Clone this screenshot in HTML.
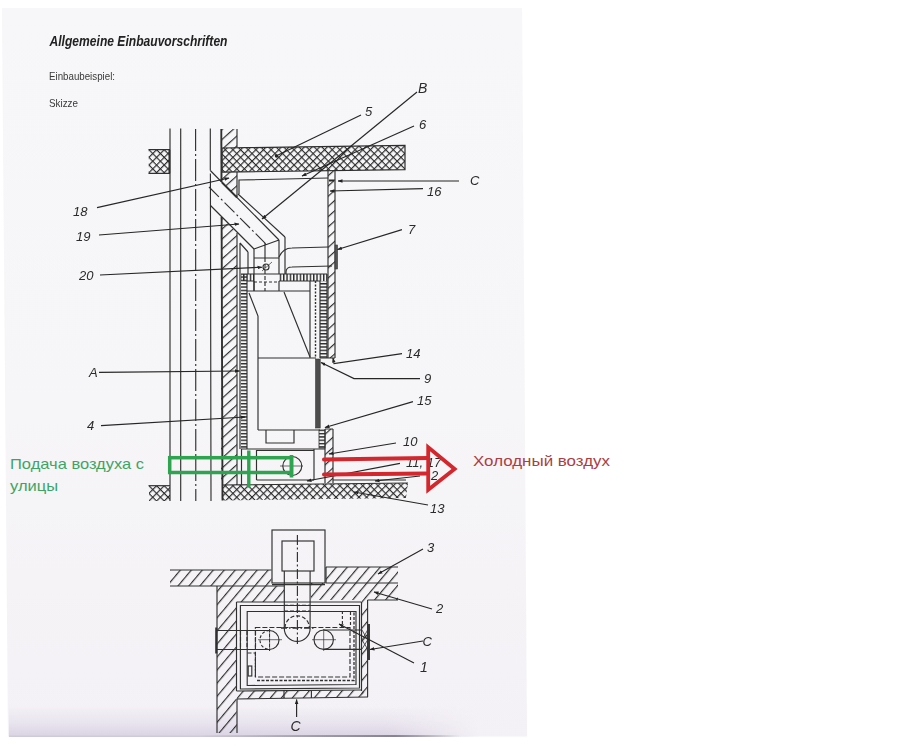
<!DOCTYPE html>
<html lang="de">
<head>
<meta charset="utf-8">
<title>Allgemeine Einbauvorschriften</title>
<style>
  html, body { margin: 0; padding: 0; background: #ffffff; }
  body { width: 905px; height: 750px; position: relative; overflow: hidden;
         font-family: "Liberation Sans", sans-serif; }
  #paper { position: absolute; left: 0; top: 0; width: 540px; height: 750px;
           background: linear-gradient(to bottom, #f7f6f8 0%, #f6f5f7 55%, #f4f1f6 100%); clip-path: polygon(2px 8px, 522px 8px, 527px 736.5px, 8px 736.5px); filter: blur(0.6px); }
  #shadow { position: absolute; left: 9px; top: 706px; width: 470px; height: 30.5px;
            background: linear-gradient(to bottom, rgba(205,195,218,0) 0%, rgba(205,195,218,0.28) 55%, rgba(200,190,214,0.55) 92%, rgba(185,176,198,0.7) 100%);
            -webkit-mask-image: linear-gradient(to right, #000 0%, #000 80%, transparent 100%);
            mask-image: linear-gradient(to right, #000 0%, #000 80%, transparent 100%); }
  #shadow2 { position: absolute; left: 200px; top: 734.5px; width: 260px; height: 2px;
            background: linear-gradient(to right, rgba(120,115,128,0) 0%, rgba(120,115,128,0.55) 45%, rgba(110,105,118,0.75) 75%, rgba(120,115,128,0) 100%); }
  svg { position: absolute; left: 0; top: 0; }
  #upper, #lower, #leaders, #labels, #hdr { filter: blur(0.35px); }
  .hw { font-family: "Liberation Sans", sans-serif; font-style: italic; font-size: 13px; fill: #2b2b2b; }
</style>
</head>
<body>
<div id="paper"></div>
<div id="shadow"></div>
<div id="shadow2"></div>
<svg width="905" height="750" viewBox="0 0 905 750">
  <defs>
    <!-- wall hatch "/" -->
    <pattern id="hatch" width="7.4" height="7.4" patternUnits="userSpaceOnUse" patternTransform="rotate(-42)">
      <line x1="0" y1="0.6" x2="7.4" y2="0.6" stroke="#2e2e2e" stroke-width="1.15"/>
    </pattern>
    <pattern id="hatchThin" width="7.6" height="7.6" patternUnits="userSpaceOnUse" patternTransform="rotate(-42)">
      <line x1="0" y1="0.6" x2="7.6" y2="0.6" stroke="#2e2e2e" stroke-width="1.15"/>
    </pattern>
    <pattern id="hatchBig" width="8.4" height="8.4" patternUnits="userSpaceOnUse" patternTransform="rotate(-50)">
      <line x1="0" y1="0.6" x2="8.4" y2="0.6" stroke="#2e2e2e" stroke-width="1.15"/>
    </pattern>
    <!-- crosshatch slab -->
    <pattern id="cross" width="5.4" height="5.4" patternUnits="userSpaceOnUse" patternTransform="rotate(45)">
      <path d="M0,0.6H5.4M0.6,0V5.4" stroke="#2a2a2a" stroke-width="1.15" fill="none"/>
    </pattern>
    <!-- brick bands -->
    <pattern id="brickV" width="6" height="3.33" patternUnits="userSpaceOnUse">
      <line x1="0" y1="0.7" x2="6" y2="0.7" stroke="#2a2a2a" stroke-width="1.4"/>
    </pattern>
    <pattern id="brickH" width="3.33" height="6" patternUnits="userSpaceOnUse">
      <line x1="0.7" y1="0" x2="0.7" y2="6" stroke="#2a2a2a" stroke-width="1.4"/>
    </pattern>
    <marker id="ah" viewBox="0 0 10 10" refX="9" refY="5" markerWidth="5" markerHeight="5" markerUnits="userSpaceOnUse" orient="auto">
      <path d="M0,1.5 L10,5 L0,8.5 z" fill="#222"/>
    </marker>
  </defs>

  <!-- header text -->
  <g id="hdr">
  <text x="49.5" y="46.2" font-family="Liberation Sans, sans-serif" font-weight="bold" font-style="italic" font-size="14px" fill="#222" textLength="178" lengthAdjust="spacingAndGlyphs">Allgemeine Einbauvorschriften</text>
  <text x="49" y="80" font-family="Liberation Sans, sans-serif" font-size="10.5px" fill="#3a3a3a" textLength="66" lengthAdjust="spacingAndGlyphs">Einbaubeispiel:</text>
  <text x="49" y="106.5" font-family="Liberation Sans, sans-serif" font-size="10.5px" fill="#3a3a3a" textLength="29" lengthAdjust="spacingAndGlyphs">Skizze</text>
  </g>

  <g id="upper" fill="none" stroke="#303030" stroke-width="1.15" stroke-linecap="butt">
    <!-- slabs (crosshatched) -->
    <polygon points="222,148 405,145.3 405,169.6 222,172.2" fill="url(#cross)" stroke="#2e2e2e" stroke-width="1.2"/>
    <rect x="148.7" y="149.7" width="21.3" height="23.7" fill="url(#cross)" stroke="none"/>
    <path d="M148.5,149.7H170 M148.5,173.4H170" stroke-width="1.2"/>
    <path d="M169.4,149.7V173.4" stroke-width="1.8"/>
    <!-- chimney verticals -->
    <path d="M170,128.5V501 M180.7,128.5V501 M210.3,128.5V170.5 M210.4,173.5L211,501"/>
    <line x1="195.6" y1="129" x2="195.8" y2="501" stroke-dasharray="22 3 2 3"/>
    <!-- wall above pipe -->
    <polygon points="221,129 237,129 237,148 221,148" fill="url(#hatch)" stroke="none"/>
    <polygon points="221,172 237,172 237,197 221.5,182" fill="url(#hatch)" stroke="none"/>
    <path d="M221.3,129L221.5,182" stroke-width="1.9"/>
    <path d="M237,129V147 M237,172V197"/>
    <path d="M222,182.5L237,197.5" stroke-width="1.8"/>
    <!-- wall below pipe -->
    <polygon points="221,217 237,233 237,485 221,485" fill="url(#hatch)" stroke="none"/>
    <path d="M221.6,217L222.5,500.5" stroke-width="1.9"/>
    <path d="M237,233V485"/>
    <!-- flue pipe diagonal -->
    <path d="M210.3,170.5L279,240 M210.5,205.5L254,249 M238,194L285,237"/>
    <path d="M209,187L266,244" stroke-dasharray="14 3 2 3"/>
    <path d="M254,249L279,240 M254,249V291 M279,240V274 M285,237V274 M265,243V258" />
    <path d="M265,258V291" stroke-dasharray="4 2"/>
    <path d="M254,258H279 M254,274H279"/>
    <circle cx="266" cy="267" r="3"/>
    <path d="M262,271L272,262" stroke-width="0.7"/>
    <!-- inner strip -->
    <path d="M240,243V449 M240,243L248,252 M248,252V274" />
    <!-- top enclosure -->
    <path d="M239,194V180L328,178"/>
    <!-- right thin wall -->
    <rect x="328" y="170" width="7" height="188" fill="url(#hatchThin)" stroke="none"/>
    <path d="M328,170V358 M335,170V358 M328,358H335"/>
    <rect x="335" y="245" width="2.5" height="24" fill="#555" stroke="#333" stroke-width="0.6"/>
    <!-- ducts -->
    <path d="M279,257 Q283,248 292,248 L328,247"/>
    <path d="M286,274V272 Q286,267 292,267 L332,266"/>
    <!-- brick lining -->
    <rect x="241" y="274" width="6" height="175" fill="url(#brickV)" stroke="none"/>
    <rect x="241" y="274" width="13" height="7" fill="url(#brickH)" stroke="none"/>
    <rect x="279" y="274" width="48" height="7" fill="url(#brickH)" stroke="none"/>
    <rect x="320" y="281" width="7" height="77" fill="url(#brickV)" stroke="none"/>
    <path d="M241,274H254 M279,274H327 M247,281H254 M279,281H320 M247,281V449 M320,281V358 M327,274V358 M320,358H328"/>
    <path d="M254,282H279" stroke-dasharray="3 2"/>
    <!-- stove interior -->
    <path d="M247,291H310 M310,281V358 M279,281V291 M254,281V291"/>
    <path d="M315.5,281V358" stroke-dasharray="2 1.5" stroke-width="1.4"/>
    <path d="M249,293L258,316V430 M284,292L310,357"/>
    <path d="M258,358H316 M258,430H320"/>
    <rect x="315.6" y="359" width="4.6" height="69" fill="#4d4d4d" stroke="#333" stroke-width="0.6"/>
    <path d="M266,430V443H294V430"/>
    <!-- lower right of stove -->
    <rect x="319" y="430" width="6" height="18" fill="url(#brickV)" stroke="#333" stroke-width="0.8"/>
    <rect x="325" y="429" width="8" height="54" fill="url(#hatchThin)" stroke="none"/>
    <path d="M325,429V483 M333,429V483 M325,429H333"/>
    <path d="M241,449H325"/>
    <!-- air box -->
    <path d="M241.5,449V485 M256.5,450V480 M256.5,450.5H314 M314,449V480 M256.5,480H314"/>
    <circle cx="292.3" cy="466" r="9.5"/>
    <path d="M280,466H303 M292.3,455V477" stroke-width="0.7"/>
    <!-- floor slab -->
    <polygon points="222,485 408,483 406,498 222,500.5" fill="url(#cross)" stroke="none"/>
    <path d="M222,485L408,483 M333,480H406" stroke-width="1.1"/>
    <rect x="149" y="486" width="21" height="15" fill="url(#cross)" stroke="none"/>
    <path d="M148.5,485.7H170" stroke-width="1.2"/>
    
  <!--UPPER-->
  </g>

  <g id="lower" fill="none" stroke="#303030" stroke-width="1.15">
    <!-- walls hatched -->
    <polygon points="170,570 271.5,570 271.5,586 170,586" fill="url(#hatchBig)" stroke="none"/>
    <path d="M170,570H271.5 M170,586H217"/>
    <polygon points="217,586 284,586 284,602 236.5,602 236.5,699 237,733 217,733" fill="url(#hatchBig)" stroke="none"/>
    <path d="M217,586V733 M237,699V733 M217,586H284"/>
    <polygon points="326,567 398,567 398,600 367.6,600 367.6,697 361.5,697 361.5,600 311,600 311,583 326,583" fill="url(#hatchBig)" stroke="none"/>
    <path d="M326,567H398 M326,583H398 M367.6,600H398 M326,567V583 M367.6,600V697 M361.5,602V691"/>
    <polygon points="237,691 362,690 368,697 237,699" fill="url(#hatchBig)" stroke="none"/>
    <path d="M237,699L368,697 M284,691V699 M311.4,690.5V698"/>
    <!-- chimney block -->
    <rect x="272" y="530" width="53" height="53"/>
    <path d="M272,584.6H325"/>
    <rect x="282" y="541" width="32" height="30"/>
    <path d="M297.4,535V644" stroke-dasharray="10 2.5 2 2.5"/>
    <!-- flue pipe plan -->
    <path d="M284.3,571V628.5 A12.9,12.9 0 0 0 310.1,628.5 V571"/>
    <path d="M285,628 A12.2,12.2 0 0 1 309.4,628" stroke-dasharray="4 2"/>
    <path d="M284,605.3H310 M284,611H310" stroke-dasharray="4 2"/>
    <path d="M281,628H314" stroke-dasharray="6 2 1.5 2" stroke-width="1.3"/>
    <!-- linings -->
    <path d="M236.5,602H361.5 M236.5,602V691 M236.5,691L361.5,690"/>
    <path d="M240.4,605.5H359.5V688L240.4,689Z"/>
    <path d="M247.2,611.5H356V684.5L247.2,685.5Z"/>
    <!-- dashed inner -->
    <path d="M255.4,627.5H350V677H255.4Z" stroke-dasharray="5 2"/>
    <path d="M257,680.5H354V612" stroke-dasharray="3 1.5" stroke-width="1.3"/>
    <path d="M350.5,612V627 M342.4,611V626" stroke-dasharray="3 2"/>
    <path d="M247.5,653H255.4V677" stroke-dasharray="4 2"/>
    <rect x="248.2" y="666" width="3.6" height="10"/>
    <!-- air pipes -->
    <path d="M216,630.5H269.5 M216,649.5H269.5"/>
    <path d="M216.3,627.5V653.5" stroke-width="2.2"/>
    <path d="M240.5,631V649 M247,631V649 M255.5,631V649" stroke-dasharray="4 2"/>
    <path d="M269.5,630.5 A9.5,9.5 0 0 1 269.5,649.5"/>
    <path d="M269.5,630.5 A9.5,9.5 0 0 0 269.5,649.5" stroke-dasharray="3 2"/>
    <path d="M269.5,629V651" stroke-dasharray="3 2" stroke-width="0.9"/>
    <path d="M258,639.7H282 M269.6,629V651" stroke-width="0.7"/>
    <path d="M323.7,630 A9.7,9.7 0 0 0 323.7,649.4 H362 M323.7,630H362"/>
    <path d="M333.4,639.7 A9.7,9.7 0 0 0 323.7,630 M333.4,639.7 A9.7,9.7 0 0 1 323.7,649.4"/>
    <path d="M312,639.7H336 M323.7,629V651" stroke-width="0.7"/>
    <path d="M369,624V660" stroke-width="1.9"/>
    <path d="M362,630L367.6,640L362,649 M367.6,630L362,640L367.6,649" stroke-width="0.8"/>
  <!--LOWER-->
  </g>

  <g id="leaders" fill="none" stroke="#262626" stroke-width="1.15">
    <!-- upper leaders -->
    <path d="M361,115L276,156"/><circle cx="276.5" cy="156" r="1.7" fill="#222" stroke="none"/>
    <path d="M417,92L262,219" marker-end="url(#ah)"/>
    <path d="M414,126L302,176" marker-end="url(#ah)"/>
    <path d="M459,181H338" marker-end="url(#ah)"/>
    <path d="M423,188.6L330,191" marker-end="url(#ah)"/>
    <path d="M329,180.5H334" stroke-width="2"/>
    <path d="M402,229.6L337.5,249.5" marker-end="url(#ah)"/>
    <path d="M97,207.6L229,178" marker-end="url(#ah)"/>
    <path d="M99,235L239,224" marker-end="url(#ah)"/>
    <path d="M100,275L262,267.2" marker-end="url(#ah)"/>
    <path d="M99,372.4L239.5,371" marker-end="url(#ah)"/>
    <path d="M101,425.6L245,417" marker-end="url(#ah)"/>
    <path d="M402,353.6L334,363.6L333,358" marker-end="url(#ah)"/>
    <path d="M420,378.6H354L321,362.5" marker-end="url(#ah)"/>
    <path d="M413,401.6L325,427.5" marker-end="url(#ah)"/>
    <path d="M396,443L329,454" marker-end="url(#ah)"/>
    <path d="M400,463.4L307,481" marker-end="url(#ah)"/>
    <path d="M420,476L375,481" marker-end="url(#ah)"/>
    <path d="M428,505L354,492" marker-end="url(#ah)"/>
    <!-- lower leaders -->
    <path d="M423,549L378,574" marker-end="url(#ah)"/>
    <path d="M432,609L374,592" marker-end="url(#ah)"/>
    <path d="M423,641L370,649.5" marker-end="url(#ah)"/>
    <path d="M414,663L339,624" marker-end="url(#ah)"/>
    <path d="M296.6,717V699.5" marker-end="url(#ah)"/>
  <!--LEADERS-->
  </g>

  <g id="labels" class="hw" stroke="none">
    <text x="365" y="116">5</text>
    <text x="418" y="93" font-size="14px">B</text>
    <text x="419" y="129">6</text>
    <text x="470" y="185" font-size="13px">C</text>
    <text x="427" y="196">16</text>
    <text x="408" y="234">7</text>
    <text x="73" y="215.5">18</text>
    <text x="76" y="241">19</text>
    <text x="79" y="279.5">20</text>
    <text x="89" y="377">A</text>
    <text x="87" y="430">4</text>
    <text x="406" y="357.5">14</text>
    <text x="424" y="383">9</text>
    <text x="417" y="404.5">15</text>
    <text x="403" y="446">10</text>
    <text x="406" y="467">11, 17</text>
    <text x="431" y="479.5">2</text>
    <text x="430" y="512.5">13</text>
    <text x="427" y="551.5">3</text>
    <text x="436" y="612.5">2</text>
    <text x="422.5" y="646" font-size="13px">C</text>
    <text x="420" y="671.5" font-size="14px">1</text>
    <text x="290.5" y="731" font-size="14px">C</text>
  <!--LABELS-->
  </g>

  <g id="annot">
    <!-- green supply air -->
    <rect x="169.7" y="457.7" width="121.8" height="14.8" fill="none" stroke="#2ea350" stroke-width="3.5"/>
    <path d="M248.8,450.5V487.5" stroke="#2ea350" stroke-width="3.4" fill="none"/>
    <path d="M291.5,455V477.5" stroke="#2ea350" stroke-width="3.6" fill="none"/>
    <text x="10" y="468.6" font-family="Liberation Sans, sans-serif" font-size="14.6px" fill="#3da564" textLength="134" lengthAdjust="spacingAndGlyphs">Подача воздуха с</text>
    <text x="10" y="491" font-family="Liberation Sans, sans-serif" font-size="14.6px" fill="#3da564" textLength="48" lengthAdjust="spacingAndGlyphs">улицы</text>
    <!-- red cold air arrow -->
    <path d="M324,459.4L428,458 M324,474.6L428,473.6" stroke="#d3262d" stroke-width="4" fill="none" stroke-linecap="round"/>
    <path d="M428.2,447.2V489.8L454.6,469Z" stroke="#d3262d" stroke-width="3.8" fill="none" stroke-linejoin="miter"/>
    <text x="473" y="465.6" font-family="Liberation Sans, sans-serif" font-size="14.6px" fill="#ad3d42" textLength="137" lengthAdjust="spacingAndGlyphs">Холодный воздух</text>
  <!--ANNOT-->
  </g>
</svg>
</body>
</html>
